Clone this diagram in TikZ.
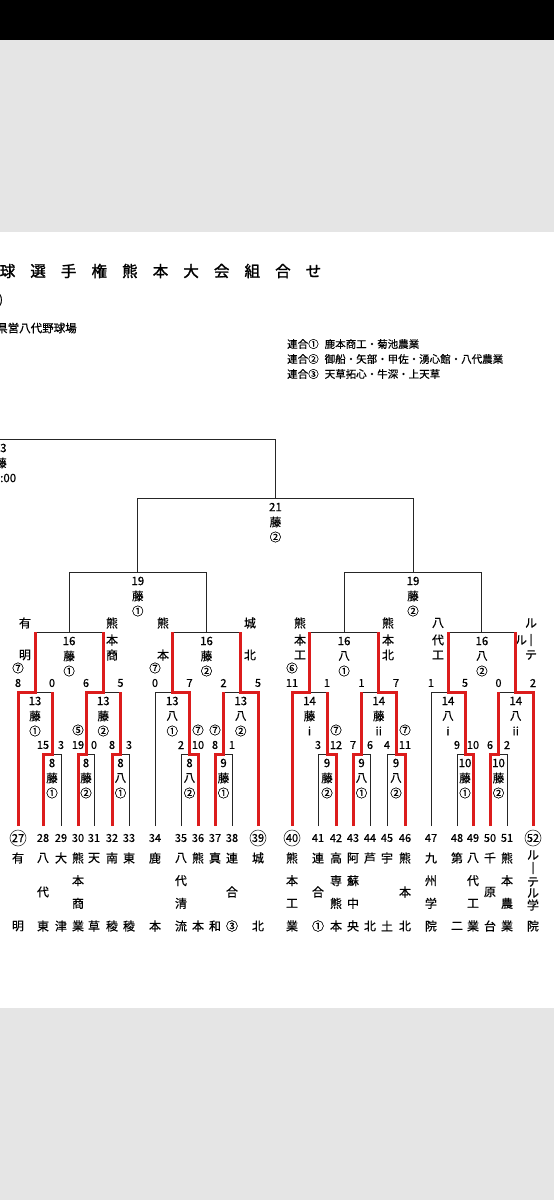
\documentclass[tikz,border=0pt]{standalone}
\usepackage{fontspec}
\setmainfont[FakeBold=0.5]{Noto Sans CJK JP}
\newfontfamily\ttlfont[FakeBold=1.6]{Noto Sans CJK JP}
\definecolor{myred}{RGB}{220,28,28}
\definecolor{bggray}{RGB}{229,229,229}
\newcommand\mybkt[3]{\draw[bl] (#1) -- (#1 |- #3) -- (#2 |- #3) -- (#2);}
\newcommand\glab[5]{\path (#2) +(0,9) node[lab] (#1a) {#3} +(0,24) node[lab] (#1b) {#4} +(0,39) node[lab] (#1c) {#5};}
\newcommand\myscore[4]{\path (#2 |- #3) +(0,-9) node[sc] (#1) {#4};}
\newcommand\mycalled[4]{\path (#2 |- #3) +(0,-24) node[lab] (#1) {#4};}
\newcommand\tlab[4]{\node[nm] (#1) at (#2,#3) {#4};}
\newcommand\tnum[3]{\path (#2) +(0,12) node[sc] (#1) {#3};}
\newcommand\tnumc[3]{\path (#2) +(0,12) node[sc,circle,draw=black!80,line width=0.6pt,minimum size=16pt] (#1) {#3};}
\newcommand\tname[4]{\foreach \ch [count=\i] in {#4} {\path (#2) +(0,{32+(\i-1)*68/(#3-1)}) node[nm] (#1-\i) {\ch};}}
\begin{document}
\begin{tikzpicture}[x=1pt,y=-1pt,
  bl/.style={draw=black!85,line width=0.95pt},
  rd/.style={draw=myred,line width=3pt,line join=miter},
  lab/.style={inner sep=0pt,font=\fontsize{11.5}{12}\selectfont},
  sc/.style={inner sep=0pt,font=\fontsize{11}{12}\selectfont},
  nm/.style={inner sep=0pt,font=\fontsize{12}{12}\selectfont},
  leg/.style={inner sep=0pt,anchor=west,font=\fontsize{10.5}{11}\selectfont},
  ttl/.style={inner sep=0pt,font=\ttlfont\fontsize{15.5}{16}\selectfont}]
\useasboundingbox (0,0) rectangle (554,1200);
\fill[black] (0,0) rectangle (554,40);
\fill[bggray] (0,40) rectangle (554,232);
\fill[white] (0,232) rectangle (554,1008);
\fill[bggray] (0,1008) rectangle (554,1200);
% header
\foreach \c [count=\i] in {球,選,手,権,熊,本,大,会,組,合,せ}
  {\node[ttl] (ttl\i) at ({7.5+(\i-1)*30.6},271) {\c};}
\node[leg,font=\fontsize{11}{11}\selectfont] (hd2) at (-1,300) {)};
\node[leg,font=\fontsize{11.5}{12}\selectfont] (hd3) at (-4,328) {県営八代野球場};
\node[leg] (lg1) at (287,344) {連合①\hspace{6pt}鹿本商工・菊池農業};
\node[leg] (lg2) at (287,359) {連合②\hspace{6pt}御船・矢部・甲佐・湧心館・八代農業};
\node[leg] (lg3) at (287,374) {連合③\hspace{6pt}天草拓心・牛深・上天草};
% leaves
\coordinate (L27) at (18,826);  \coordinate (L28) at (43,826);  \coordinate (L29) at (61,826);
\coordinate (L30) at (78,826);  \coordinate (L31) at (94,826);  \coordinate (L32) at (112,826);
\coordinate (L33) at (129,826); \coordinate (L34) at (155,826); \coordinate (L35) at (181,826);
\coordinate (L36) at (198,826); \coordinate (L37) at (215,826); \coordinate (L38) at (232,826);
\coordinate (L39) at (258,826);
\coordinate (L40) at (292,826); \coordinate (L41) at (318,826); \coordinate (L42) at (336,826);
\coordinate (L43) at (353,826); \coordinate (L44) at (370,826); \coordinate (L45) at (387,826);
\coordinate (L46) at (405,826); \coordinate (L47) at (431,826); \coordinate (L48) at (457,826);
\coordinate (L49) at (473,826); \coordinate (L50) at (490,826); \coordinate (L51) at (507,826);
\coordinate (L52) at (533,826);
% matches
\coordinate (M1) at (52,754);   \coordinate (M2) at (86,754);   \coordinate (M3) at (120.5,754);
\coordinate (M4) at (189.5,754);\coordinate (M5) at (223.5,754);\coordinate (M6) at (327,754);
\coordinate (M7) at (361.5,754);\coordinate (M8) at (396,754);  \coordinate (M9) at (465,754);
\coordinate (M10) at (498.5,754);
\coordinate (N1) at (35,692);   \coordinate (N2) at (103.25,692);\coordinate (N3) at (172.25,692);
\coordinate (N4) at (240.75,692);\coordinate (N5) at (309.5,692);\coordinate (N6) at (378.75,692);
\coordinate (N7) at (448,692);  \coordinate (N8) at (515.75,692);
\coordinate (P1) at (69.1,632); \coordinate (P2) at (206.5,632);
\coordinate (P3) at (344.1,632);\coordinate (P4) at (481.9,632);
\coordinate (Q1) at (137.8,572);\coordinate (Q2) at (413,572);
\coordinate (R1) at (275.4,498);
\coordinate (FL) at (-5,439);
% texts: game labels
\glab{gM1}{M1}{8}{藤}{①}  \glab{gM2}{M2}{8}{藤}{②}  \glab{gM3}{M3}{8}{八}{①}
\glab{gM4}{M4}{8}{八}{②}  \glab{gM5}{M5}{9}{藤}{①}  \glab{gM6}{M6}{9}{藤}{②}
\glab{gM7}{M7}{9}{八}{①}  \glab{gM8}{M8}{9}{八}{②}  \glab{gM9}{M9}{10}{藤}{①}
\glab{gM10}{M10}{10}{藤}{②}
\glab{gN1}{N1}{13}{藤}{①} \glab{gN2}{N2}{13}{藤}{②} \glab{gN3}{N3}{13}{八}{①}
\glab{gN4}{N4}{13}{八}{②} \glab{gN5}{N5}{14}{藤}{i}  \glab{gN6}{N6}{14}{藤}{ii}
\glab{gN7}{N7}{14}{八}{i}  \glab{gN8}{N8}{14}{八}{ii}
\glab{gP1}{P1}{16}{藤}{①} \glab{gP2}{P2}{16}{藤}{②} \glab{gP3}{P3}{16}{八}{①}
\glab{gP4}{P4}{16}{八}{②}
\glab{gQ1}{Q1}{19}{藤}{①} \glab{gQ2}{Q2}{19}{藤}{②}
\glab{gR1}{R1}{21}{藤}{②}
\node[lab,anchor=west] (gFa) at (0,448) {3};
\node[lab] (gFb) at (1,463) {藤};
\node[lab,anchor=west] (gFc) at (0,478) {:00};
% scores
\myscore{s1a}{L28}{M1}{15} \myscore{s1b}{L29}{M1}{3}
\myscore{s2a}{L30}{M2}{19} \myscore{s2b}{L31}{M2}{0}
\myscore{s3a}{L32}{M3}{8}  \myscore{s3b}{L33}{M3}{3}
\myscore{s4a}{L35}{M4}{2}  \myscore{s4b}{L36}{M4}{10}
\myscore{s5a}{L37}{M5}{8}  \myscore{s5b}{L38}{M5}{1}
\myscore{s6a}{L41}{M6}{3}  \myscore{s6b}{L42}{M6}{12}
\myscore{s7a}{L43}{M7}{7}  \myscore{s7b}{L44}{M7}{6}
\myscore{s8a}{L45}{M8}{4}  \myscore{s8b}{L46}{M8}{11}
\myscore{s9a}{L48}{M9}{9}  \myscore{s9b}{L49}{M9}{10}
\myscore{s10a}{L50}{M10}{6} \myscore{s10b}{L51}{M10}{2}
\myscore{t1a}{L27}{N1}{8}  \myscore{t1b}{M1}{N1}{0}
\myscore{t2a}{M2}{N2}{6}   \myscore{t2b}{M3}{N2}{5}
\myscore{t3a}{L34}{N3}{0}  \myscore{t3b}{M4}{N3}{7}
\myscore{t4a}{M5}{N4}{2}   \myscore{t4b}{L39}{N4}{5}
\myscore{t5a}{L40}{N5}{11} \myscore{t5b}{M6}{N5}{1}
\myscore{t6a}{M7}{N6}{1}   \myscore{t6b}{M8}{N6}{7}
\myscore{t7a}{L47}{N7}{1}  \myscore{t7b}{M9}{N7}{5}
\myscore{t8a}{M10}{N8}{0}  \myscore{t8b}{L52}{N8}{2}
% called games
\mycalled{c1}{L27}{N1}{⑦} \mycalled{c2}{L34}{N3}{⑦} \mycalled{c3}{L40}{N5}{⑥}
\mycalled{c4}{L30}{M2}{⑤} \mycalled{c5}{L36}{M4}{⑦} \mycalled{c6}{L37}{M5}{⑦}
\mycalled{c7}{L42}{M6}{⑦} \mycalled{c8}{L46}{M8}{⑦}
% names at round 16
\tlab{a1}{25}{623}{有} \tlab{a2}{25}{655}{明}
\tlab{b1}{112}{623}{熊} \tlab{b2}{112}{640}{本} \tlab{b3}{112}{655}{商}
\tlab{d1}{163}{623}{熊} \tlab{d2}{163}{655}{本}
\tlab{e1}{250}{623}{城} \tlab{e2}{250}{655}{北}
\tlab{f1}{300}{623}{熊} \tlab{f2}{300}{640}{本} \tlab{f3}{300}{655}{工}
\tlab{h1}{388}{623}{熊} \tlab{h2}{388}{640}{本} \tlab{h3}{388}{655}{北}
\tlab{k1}{438}{623}{八} \tlab{k2}{438}{640}{代} \tlab{k3}{438}{655}{工}
\tlab{r1}{531}{623}{ル} \tlab{r2}{531}{640}{｜} \tlab{r3}{531}{655}{テ} \tlab{r4}{521}{640}{ル}
% team numbers
\tnumc{n27}{L27}{27} \tnum{n28}{L28}{28} \tnum{n29}{L29}{29} \tnum{n30}{L30}{30}
\tnum{n31}{L31}{31} \tnum{n32}{L32}{32} \tnum{n33}{L33}{33} \tnum{n34}{L34}{34}
\tnum{n35}{L35}{35} \tnum{n36}{L36}{36} \tnum{n37}{L37}{37} \tnum{n38}{L38}{38}
\tnumc{n39}{L39}{39}
\tnumc{n40}{L40}{40} \tnum{n41}{L41}{41} \tnum{n42}{L42}{42} \tnum{n43}{L43}{43}
\tnum{n44}{L44}{44} \tnum{n45}{L45}{45} \tnum{n46}{L46}{46} \tnum{n47}{L47}{47}
\tnum{n48}{L48}{48} \tnum{n49}{L49}{49} \tnum{n50}{L50}{50} \tnum{n51}{L51}{51}
\tnumc{n52}{L52}{52}
% team names
\tname{m27}{L27}{2}{有,明}
\tname{m28}{L28}{3}{八,代,東}
\tname{m29}{L29}{2}{大,津}
\tname{m30}{L30}{4}{熊,本,商,業}
\tname{m31}{L31}{2}{天,草}
\tname{m32}{L32}{2}{南,稜}
\tname{m33}{L33}{2}{東,稜}
\tname{m34}{L34}{2}{鹿,本}
\tname{m35}{L35}{4}{八,代,清,流}
\tname{m36}{L36}{2}{熊,本}
\tname{m37}{L37}{2}{真,和}
\tname{m38}{L38}{3}{連,合,③}
\tname{m39}{L39}{2}{城,北}
\tname{m40}{L40}{4}{熊,本,工,業}
\tname{m41}{L41}{3}{連,合,①}
\tname{m42}{L42}{4}{高,専,熊,本}
\tname{m43}{L43}{4}{阿,蘇,中,央}
\tname{m44}{L44}{2}{芦,北}
\tname{m45}{L45}{2}{宇,土}
\tname{m46}{L46}{3}{熊,本,北}
\tname{m47}{L47}{4}{九,州,学,院}
\tname{m48}{L48}{2}{第,二}
\tname{m49}{L49}{4}{八,代,工,業}
\tname{m50}{L50}{3}{千,原,台}
\tname{m51}{L51}{4}{熊,本,農,業}
\path (L52) +(0,29) node[nm] (m52-1) {ル} +(0,42) node[nm] (m52-2) {｜}
  +(0,56) node[nm] (m52-3) {テ} +(0,67) node[nm] (m52-4) {ル}
  +(0,79) node[nm] (m52-5) {学} +(0,100) node[nm] (m52-6) {院};
% black bracket lines
\mybkt{L28}{L29}{M1} \mybkt{L30}{L31}{M2} \mybkt{L32}{L33}{M3}
\mybkt{L35}{L36}{M4} \mybkt{L37}{L38}{M5} \mybkt{L41}{L42}{M6}
\mybkt{L43}{L44}{M7} \mybkt{L45}{L46}{M8} \mybkt{L48}{L49}{M9}
\mybkt{L50}{L51}{M10}
\mybkt{L27}{M1}{N1} \mybkt{M2}{M3}{N2} \mybkt{L34}{M4}{N3} \mybkt{M5}{L39}{N4}
\mybkt{L40}{M6}{N5} \mybkt{M7}{M8}{N6} \mybkt{L47}{M9}{N7} \mybkt{M10}{L52}{N8}
\mybkt{N1}{N2}{P1} \mybkt{N3}{N4}{P2} \mybkt{N5}{N6}{P3} \mybkt{N7}{N8}{P4}
\mybkt{P1}{P2}{Q1} \mybkt{P3}{P4}{Q2}
\mybkt{Q1}{Q2}{R1}
\draw[bl] (R1) -- (R1 |- FL) -- (FL);
% red winning paths
\draw[rd] (L27) -- (L27 |- N1) -- (N1) -- (N1 |- P1);
\draw[rd] (L28) -- (L28 |- M1) -- (M1) -- (M1 |- N1);
\draw[rd] (L30) -- (L30 |- M2) -- (M2) -- (M2 |- N2) -- (N2) -- (N2 |- P1);
\draw[rd] (L32) -- (L32 |- M3) -- (M3) -- (M3 |- N2);
\draw[rd] (L36) -- (L36 |- M4) -- (M4) -- (M4 |- N3) -- (N3) -- (N3 |- P2);
\draw[rd] (L37) -- (L37 |- M5) -- (M5) -- (M5 |- N4);
\draw[rd] (L39) -- (L39 |- N4) -- (N4) -- (N4 |- P2);
\draw[rd] (L40) -- (L40 |- N5) -- (N5) -- (N5 |- P3);
\draw[rd] (L42) -- (L42 |- M6) -- (M6) -- (M6 |- N5);
\draw[rd] (L43) -- (L43 |- M7) -- (M7) -- (M7 |- N6);
\draw[rd] (L46) -- (L46 |- M8) -- (M8) -- (M8 |- N6) -- (N6) -- (N6 |- P3);
\draw[rd] (L49) -- (L49 |- M9) -- (M9) -- (M9 |- N7) -- (N7) -- (N7 |- P4);
\draw[rd] (L50) -- (L50 |- M10) -- (M10) -- (M10 |- N8);
\draw[rd] (L52) -- (L52 |- N8) -- (N8) -- (N8 |- P4);
\end{tikzpicture}
\end{document}
